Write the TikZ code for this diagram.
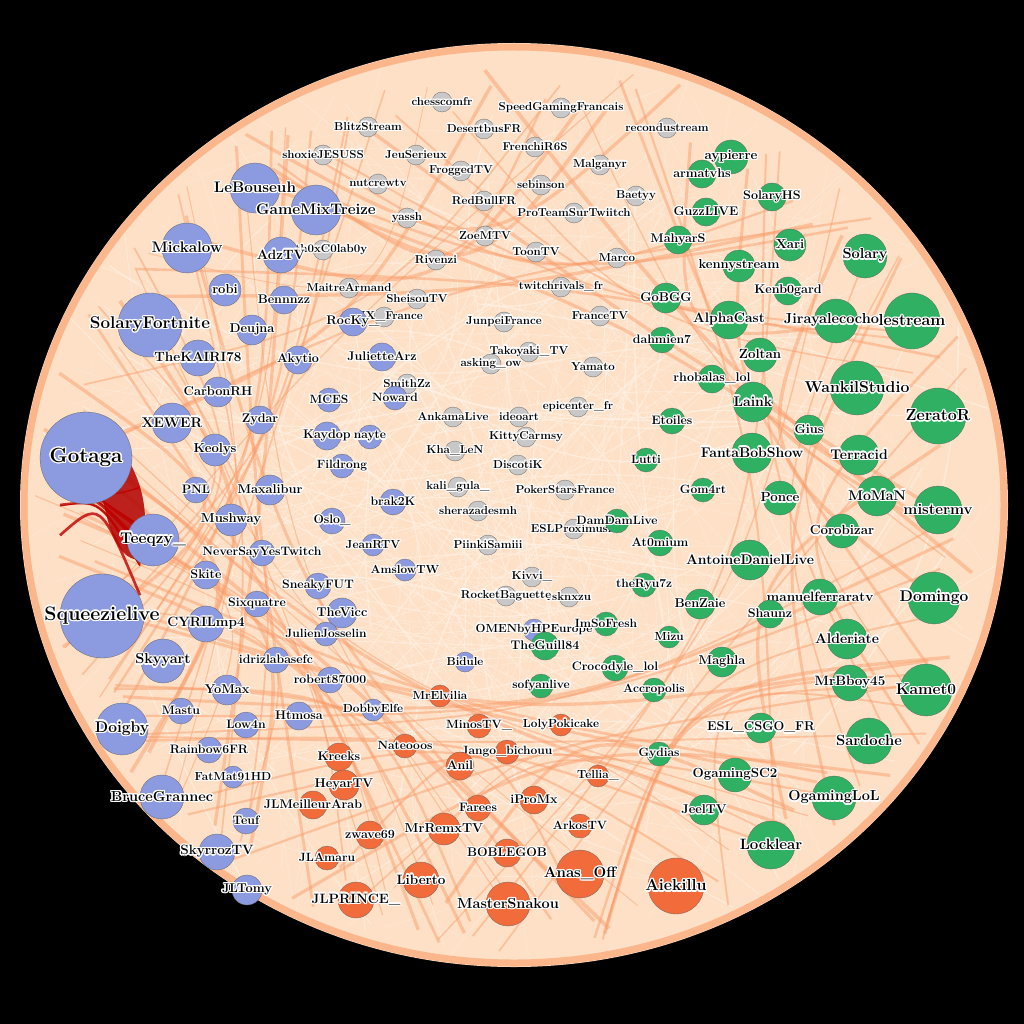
\documentclass[tikz,border=0pt]{standalone}
\usepackage[copies]{contour}
\contourlength{1.3pt}
\contournumber{16}
\definecolor{bl}{HTML}{8C9AE0}
\definecolor{gr}{HTML}{C8C8C8}
\definecolor{gn}{HTML}{2FB062}
\definecolor{og}{HTML}{F26B3A}
\definecolor{peach}{HTML}{FDE0C6}
\definecolor{edge}{HTML}{FFF3E8}
\definecolor{edge2}{HTML}{FA9A66}
\begin{document}
\begin{tikzpicture}[x=1pt,y=-1pt,
  vert/.style={circle,draw=black!60,line width=0.3pt,inner sep=0pt},
  lab/.style={inner sep=0pt,text=black}]
\fill[black] (0,0) rectangle (1024,1024);
\useasboundingbox (0,0) rectangle (1024,1024);
\fill[peach] (514,505) ellipse [x radius=494, y radius=462];
\pgfmathsetseed{7}
\begin{scope}
\clip (514,505) ellipse [x radius=494, y radius=462];
\foreach \i in {1,...,400}{
  \pgfmathsetmacro{\aa}{rnd*360}\pgfmathsetmacro{\ra}{0.2+0.8*rnd}
  \pgfmathsetmacro{\ab}{rnd*360}\pgfmathsetmacro{\rb}{0.2+0.8*rnd}
  \pgfmathsetmacro{\w}{0.3+1.2*rnd^3}
  \pgfmathsetmacro{\bend}{rnd*60-30}
  \draw[edge,line width=\w pt,opacity=0.6]
    ({514+494*\ra*cos(\aa)},{505+462*\ra*sin(\aa)}) to[bend left=\bend]
    ({514+494*\rb*cos(\ab)},{505+462*\rb*sin(\ab)});
}
\foreach \i in {1,...,90}{
  \pgfmathsetmacro{\aa}{rnd*360}\pgfmathsetmacro{\ab}{\aa+30+rnd*120}
  \pgfmathsetmacro{\w}{0.8+3*rnd}
  \pgfmathsetmacro{\ri}{420+rnd*60}
  \draw[edge2,line width=\w pt,opacity=0.45]
    ({514+\ri*cos(\aa)},{505+\ri*0.94*sin(\aa)}) .. controls ({514+0.55*\ri*cos((\aa+\ab)/2)},{505+0.5*\ri*sin((\aa+\ab)/2)}) ..
    ({514+\ri*cos(\ab)},{505+\ri*0.94*sin(\ab)});
}
\draw[edge2,line width=7pt,opacity=0.6] (514,505) ellipse [x radius=490, y radius=458];
\fill[red!70!black,opacity=0.85] (95,420) .. controls (150,470) and (150,520) .. (140,560) .. controls (115,560) and (100,520) .. (95,420);
\foreach \i in {1,...,8}{
  \pgfmathsetmacro{\yy}{400+rnd*200}\pgfmathsetmacro{\w}{1+2*rnd}
  \draw[red!75!black,line width=\w pt,opacity=0.8] (60,{\yy}) .. controls (100,500) .. (140,{\yy+60});
}
\end{scope}
\newcommand\vtx[6]{%
  \pgfmathsetmacro{\fs}{max(11,0.25*#3+9)}%
  \node[vert,fill=#4,minimum size=#3*2pt] (#1) at (#2) {};
  \node[lab,font=\bfseries\fontsize{\fs}{\fs}\selectfont] (#1t) at (#2) {\contour{white}{#5}};}
\foreach \x/\y/\r/\c/\t [count=\k] in {
442/102/10/gr/chesscomfr,561/108/10/gr/SpeedGamingFrancais,667/128/10/gr/recondustream,368/127/10/gr/BlitzStream,
484/129/10/gr/DesertbusFR,535/147/10/gr/FrenchiR6S,323/155/10/gr/shoxieJESUSS,416/155/10/gr/JeuSerieux,600/165/10/gr/Malganyr,
378/184/10/gr/nutcrewtv,461/171/10/gr/FroggedTV,541/185/10/gr/sebinson,636/196/10/gr/Baetyy,407/218/10/gr/yassh,
484/201/10/gr/RedBullFR,574/213/10/gr/ProTeamSurTwiitch,485/236/10/gr/ZoeMTV,323/250/10/gr/Anth0xC0lab0y,436/260/10/gr/Rivenzi,
536/252/10/gr/ToonTV,617/258/10/gr/Marco,349/288/10/gr/MaitreArmand,561/287/10/gr/twitchrivals\_fr,417/299/10/gr/SheisouTV,
504/322/10/gr/JunpeiFrance,600/316/10/gr/FranceTV,384/317/10/gr/ESIX\_France,529/352/10/gr/Takoyaki\_TV,491/364/10/gr/asking\_ow,
593/367/10/gr/Yamato,407/384/10/gr/SmithZz,453/417/10/gr/AnkamaLive,519/417/10/gr/ideoart,578/407/10/gr/epicenter\_fr,
526/437/10/gr/KittyCarmsy,455/451/10/gr/Kha\_LeN,518/465/10/gr/DiscotiK,458/487/10/gr/kali\_gula\_,565/490/10/gr/PokerStarsFrance,
478/511/10/gr/sherazadesmh,574/529/10/gr/ESLProximusfr,488/545/10/gr/PiinkiSamiii,532/577/10/gr/Kivvi\_,569/597/10/gr/rsknxzu,
506/596/10/gr/RocketBaguette,534/630/11/bl/OMENbyHPEurope,465/662/10/bl/Bidule,
255/188/25/bl/LeBouseuh,316/210/25/bl/GameMixTreize,187/248/25/bl/Mickalow,281/255/18/bl/AdzTV,225/290/16/bl/robi,
284/300/14/bl/Bennnzz,150/325/32/bl/SolaryFortnite,353/322/14/bl/RocKy\_,252/330/15/bl/Deujna,198/358/18/bl/TheKAIRI78,
382/357/14/bl/JulietteArz,298/360/14/bl/Akytio,218/392/15/bl/CarbonRH,329/400/12/bl/MCES,395/398/12/bl/Noward,
260/420/14/bl/Zydar,172/423/20/bl/XEWER,327/436/14/bl/Kaydop,370/437/12/bl/nayte,215/450/16/bl/Keolys,86/458/46/bl/Gotaga,
342/466/12/bl/Fildrong,196/490/13/bl/PNL,270/490/15/bl/Maxalibur,393/502/13/bl/brak2K,231/520/16/bl/Mushway,332/521/13/bl/Oslo\_,
153/540/26/bl/Teeqzy\_,262/553/13/bl/NeverSayYesTwitch,373/545/11/bl/JeanRTV,206/575/14/bl/Skite,318/586/13/bl/SneakyFUT,
405/570/11/bl/AmslowTW,102/616/42/bl/Squeezielive,257/604/13/bl/Sixquatre,342/613/15/bl/TheVicc,206/624/18/bl/CYRILmp4,
326/634/12/bl/JulienJosselin,276/660/13/bl/idrizlabasefc,163/661/22/bl/Skyyart,330/680/13/bl/robert87000,227/690/15/bl/YoMax,
122/729/26/bl/Doigby,181/711/13/bl/Mastu,299/716/14/bl/Htmosa,373/710/11/bl/DobbyElfe,246/725/13/bl/Low4n,209/750/13/bl/Rainbow6FR,
233/777/11/bl/FatMat91HD,162/797/22/bl/BruceGrannec,246/821/13/bl/Teuf,217/852/18/bl/SkyrrozTV,247/890/15/bl/JLTomy,
440/696/11/og/MrElvilia,479/726/12/og/MinosTV\_,561/725/11/og/LolyPokicake,405/746/12/og/Nateooos,507/752/12/og/Jango\_bichouu,
460/766/14/og/Anil,339/757/14/og/Kreeks,344/785/15/og/HeyarTV,598/776/11/og/Tellia\_,534/800/14/og/iProMx,478/808/13/og/Farees,
313/805/14/og/JLMeilleurArab,444/829/16/og/MrRemxTV,580/826/12/og/ArkosTV,370/835/14/og/zwave69,507/853/14/og/BOBLEGOB,
327/858/12/og/JLAmaru,580/874/24/og/Anas\_Off,421/880/18/og/Liberto,676/886/28/og/Aiekillu,356/900/18/og/JLPRINCE\_,508/904/22/og/MasterSnakou,
731/157/17/gn/aypierre,702/174/14/gn/armatvhs,772/197/14/gn/SolaryHS,706/212/14/gn/GuzzLIVE,790/245/16/gn/Xari,678/240/14/gn/MahyarS,
865/256/22/gn/Solary,739/266/16/gn/kennystream,788/291/14/gn/Kenb0gard,666/298/15/gn/GoBGG,729/320/19/gn/AlphaCast,
836/321/22/gn/Jirayalecochon,912/321/28/gn/lestream,662/340/13/gn/dahmien7,760/355/17/gn/Zoltan,712/379/14/gn/rhobalas\_lol,
857/388/27/gn/WankilStudio,672/421/13/gn/Etoiles,753/402/20/gn/Laink,938/416/28/gn/ZeratoR,809/430/15/gn/Gius,859/455/20/gn/Terracid,
752/453/20/gn/FantaBobShow,646/460/12/gn/Lutti,703/490/12/gn/Gom4rt,877/496/20/gn/MoMaN,780/498/17/gn/Ponce,938/510/24/gn/mistermv,
617/521/12/gn/DamDamLive,842/531/17/gn/Corobizar,660/543/13/gn/At0mium,750/560/20/gn/AntoineDanielLive,820/597/18/gn/manuelferraratv,
934/598/26/gn/Domingo,644/585/12/gn/theRyu7z,700/604/15/gn/BenZaie,770/614/14/gn/Shaunz,606/624/12/gn/ImSoFresh,545/646/14/gn/TheGuill84,
669/637/11/gn/Mizu,847/639/20/gn/Alderiate,615/668/13/gn/Crocodyle\_lol,722/662/15/gn/Maghla,850/683/18/gn/MrBboy45,926/690/26/gn/Kamet0,
541/686/12/gn/sofyanlive,654/690/12/gn/Accropolis,761/728/15/gn/ESL\_CSGO\_FR,869/741/23/gn/Sardoche,659/754/12/gn/Gydias,
735/775/17/gn/OgamingSC2,834/798/22/gn/OgamingLoL,704/810/15/gn/JeelTV,771/845/24/gn/Locklear}
{\vtx{v\k}{\x,\y}{\r}{\c}{\t}{}}
\end{tikzpicture}
\end{document}
